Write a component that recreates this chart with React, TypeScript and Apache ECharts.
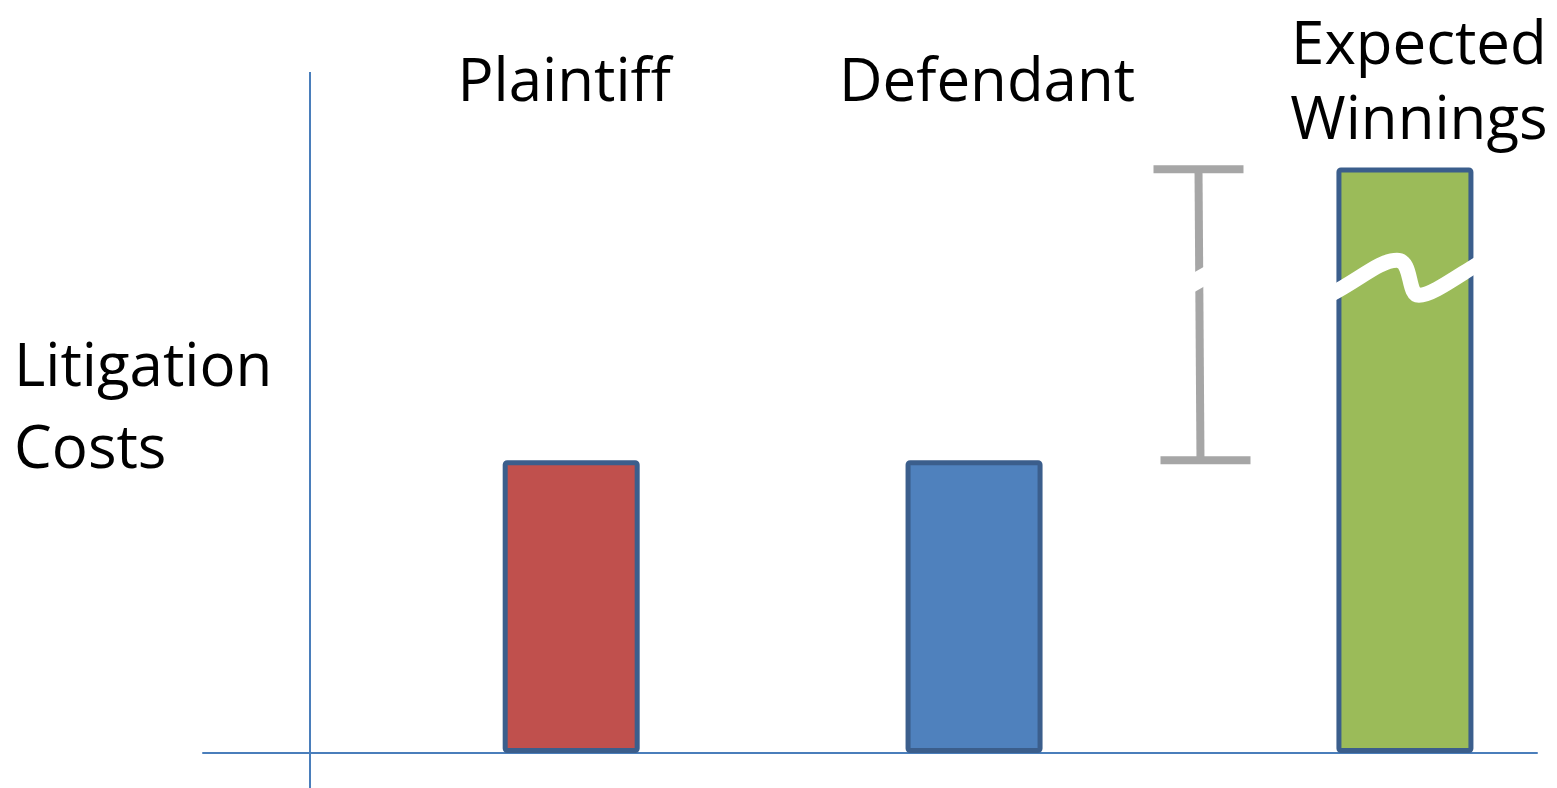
import React, { useEffect, useRef } from "react";
import * as echarts from "echarts";

// ---- data ----
const categories = ["Plaintiff", "Defendant", "Expected Winnings"];
const values = [50, 50, 100]; // bar heights (Expected Winnings shown broken)
const barPositions = [27.6, 57.8, 90.1]; // positions along the horizontal value axis
const barColors = ["#C0504D", "#4F81BD", "#9BBB59"];
const bracketPosition = 74.7;
const bracketRange = [50, 99.7]; // litigation cost level up to expected winnings
const breakLevel = 80.9; // level of the axis-break wave
const labelLevel = 115.3;
const yAxisTitle = "Litigation Costs";

const FONT = "'Open Sans', 'Noto Sans', sans-serif";

export default function App() {
  const ref = useRef<HTMLDivElement>(null);

  useEffect(() => {
    if (!ref.current) return;
    const chart = echarts.init(ref.current, null, { renderer: "svg" });

    const labelOffsets = [[-7, 0], [13, 0], [14, 13]];

    const option: any = {
      animation: false,
      backgroundColor: "#ffffff",
      grid: { left: 203, right: 20, top: 21, bottom: 35 },
      xAxis: {
        type: "value",
        min: 0,
        max: 100,
        axisLine: { show: true, onZero: false, lineStyle: { color: "#4A7EBB", width: 2 } },
        axisTick: { show: false },
        axisLabel: { show: false },
        splitLine: { show: false },
      },
      yAxis: {
        type: "value",
        min: 0,
        max: 125,
        axisLine: { show: false },
        axisTick: { show: false },
        axisLabel: { show: false },
        splitLine: { show: false },
      },
      graphic: [
        {
          type: "line",
          shape: { x1: 310, y1: 72, x2: 310, y2: 788 },
          style: { stroke: "#4A7EBB", lineWidth: 2 },
          z: 1,
        },
        {
          type: "text",
          left: 14,
          top: 322,
          style: {
            text: yAxisTitle.replace(" ", "\n"),
            font: `60px ${FONT}`,
            fill: "#000000",
            lineHeight: 82,
          },
        },
      ],
      series: [
        {
          type: "bar",
          barWidth: 137,
          z: 2,
          data: values.map((v, i) => ({
            value: [barPositions[i], v],
            itemStyle: {
              color: barColors[i],
              borderColor: "#3B5E8C",
              borderWidth: 5,
              borderRadius: 2,
            },
          })),
        },
        {
          type: "custom",
          z: 4,
          data: [[bracketPosition, bracketRange[0], bracketRange[1]]],
          renderItem: (params: any, api: any) => {
            const x = api.value(0);
            const bot = api.coord([x, api.value(1)]);
            const top = api.coord([x, api.value(2)]);
            const mid = api.coord([x, breakLevel]);
            const gray = "#A6A6A6";
            return {
              type: "group",
              children: [
                {
                  type: "line",
                  shape: { x1: top[0] - 1, y1: top[1], x2: bot[0] + 1, y2: bot[1] },
                  style: { stroke: gray, lineWidth: 8 },
                },
                {
                  type: "line",
                  shape: { x1: top[0] - 46, y1: top[1], x2: top[0] + 44, y2: top[1] },
                  style: { stroke: gray, lineWidth: 8 },
                },
                {
                  type: "line",
                  shape: { x1: bot[0] - 39, y1: bot[1], x2: bot[0] + 51, y2: bot[1] },
                  style: { stroke: gray, lineWidth: 8 },
                },
                {
                  type: "line",
                  shape: { x1: mid[0] - 14, y1: mid[1] + 8, x2: mid[0] + 14, y2: mid[1] - 8 },
                  style: { stroke: "#ffffff", lineWidth: 17 },
                },
              ],
            };
          },
        },
        {
          type: "custom",
          z: 4,
          data: [[barPositions[2], breakLevel]],
          renderItem: (params: any, api: any) => {
            const c = api.coord([api.value(0), api.value(1)]);
            const p = (dx: number, dy: number) => `${c[0] + dx} ${c[1] + dy}`;
            const d =
              `M ${p(-74, 15)} ` +
              `C ${p(-45, 0)}, ${p(-25, -19)}, ${p(-8, -19)} ` +
              `C ${p(8, -19)}, ${p(2, 16)}, ${p(14, 16)} ` +
              `C ${p(26, 16)}, ${p(45, 2)}, ${p(74, -16)}`;
            return {
              type: "path",
              shape: { pathData: d },
              style: { stroke: "#ffffff", lineWidth: 15, fill: "none" },
            };
          },
        },
        {
          type: "scatter",
          symbolSize: 1,
          itemStyle: { color: "rgba(0,0,0,0)", opacity: 1 },
          z: 5,
          data: categories.map((name, i) => ({
            name,
            value: [barPositions[i], labelLevel],
            label: { offset: labelOffsets[i] },
          })),
          label: {
            show: true,
            position: "inside",
            formatter: (p: any) =>
              p.name === "Expected Winnings" ? "{a|Expected}\n{b|Winnings}" : p.name,
            fontFamily: FONT,
            fontSize: 60,
            color: "#000000",
            opacity: 1,
            lineHeight: 81,
            align: "center",
            verticalAlign: "middle",
            rich: {
              a: { fontFamily: FONT, fontSize: 60, color: "#000000", lineHeight: 50 },
              b: { fontFamily: FONT, fontSize: 60, color: "#000000", lineHeight: 100 },
            },
          },
        },
      ],
    };

    chart.setOption(option);
    return () => chart.dispose();
  }, []);

  return (
    <div
      ref={ref}
      style={{ position: "absolute", left: 0, top: 0, width: 1557, height: 788 }}
    />
  );
}
